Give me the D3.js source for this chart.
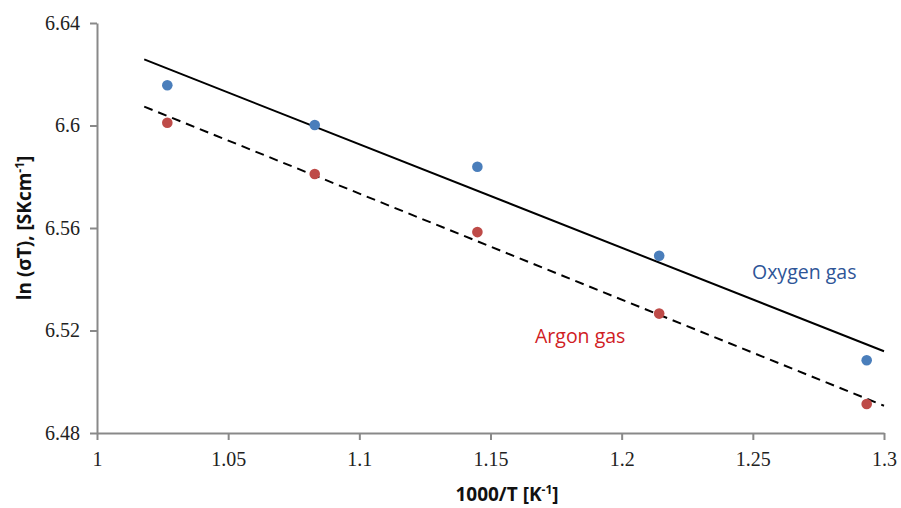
<!DOCTYPE html>
<html>
<head>
<meta charset="utf-8">
<script src="https://cdn.jsdelivr.net/npm/d3@7"></script>
<style>
  body { margin: 0; background: #fff; }
  svg { display: block; }
</style>
</head>
<body>
<svg id="chart" width="901" height="508"></svg>
<script>
// data
const invT = [1.0268, 1.083, 1.145, 1.2143, 1.2934];   // 1000/T [K^-1]
const oxygen = [6.6157, 6.6002, 6.5839, 6.5492, 6.5084];
const argon = [6.6011, 6.5811, 6.5584, 6.5266, 6.4913];
const xTicks = [1, 1.05, 1.1, 1.15, 1.2, 1.25, 1.3];
const yTicks = [6.48, 6.52, 6.56, 6.6, 6.64];
const trendRange = [1.018, 1.3];

const svg = d3.select("#chart");

// plot box
const margin = {top: 23, right: 17, bottom: 75, left: 97};
const width = +svg.attr("width") - margin.right;
const height = +svg.attr("height") - margin.bottom;

const x = d3.scaleLinear().domain([1, 1.3]).range([margin.left, width]);
const y = d3.scaleLinear().domain([6.48, 6.64]).range([height, margin.top]);

const fmt = d => String(+d.toFixed(2));
const axisGrey = "#898989";

const gx = svg.append("g")
  .attr("transform", `translate(0,${height})`)
  .call(d3.axisBottom(x).tickValues(xTicks).tickFormat(fmt).tickSize(7).tickSizeOuter(0).tickPadding(12));

const gy = svg.append("g")
  .attr("transform", `translate(${margin.left},0)`)
  .call(d3.axisLeft(y).tickValues(yTicks).tickFormat(fmt).tickSize(7).tickSizeOuter(0).tickPadding(10));

[gx, gy].forEach(g => {
  g.select(".domain").attr("stroke", axisGrey).attr("stroke-width", 2);
  g.selectAll(".tick line").attr("stroke", axisGrey).attr("stroke-width", 2);
  g.selectAll(".tick text")
    .attr("fill", "#222")
    .attr("font-family", "'Liberation Serif', serif")
    .attr("font-size", 20);
});

// least squares fit, like the spreadsheet trendline
function fit(xs, ys) {
  const mx = d3.mean(xs), my = d3.mean(ys);
  const sxy = d3.sum(xs, (v, i) => (v - mx) * (ys[i] - my));
  const sxx = d3.sum(xs, v => (v - mx) * (v - mx));
  const b = sxy / sxx;
  return t => my + b * (t - mx);
}

const series = [
  {name: "Oxygen gas", vals: oxygen, dot: "#4a7ebb", dash: null},
  {name: "Argon gas", vals: argon, dot: "#be4b48", dash: "9,6"}
];

series.forEach(s => {
  const f = fit(invT, s.vals);
  svg.append("line")
    .attr("x1", x(trendRange[0])).attr("y1", y(f(trendRange[0])))
    .attr("x2", x(trendRange[1])).attr("y2", y(f(trendRange[1])))
    .attr("stroke", "#000")
    .attr("stroke-width", 2)
    .attr("stroke-dasharray", s.dash);
});

series.forEach(s => {
  svg.append("g")
    .selectAll("circle")
    .data(s.vals)
    .join("circle")
    .attr("cx", (d, i) => x(invT[i]))
    .attr("cy", d => y(d))
    .attr("r", 5.3)
    .attr("fill", s.dot);
});

// series labels
svg.append("text")
  .attr("x", 752).attr("y", 279)
  .attr("font-family", "'Open Sans', sans-serif")
  .attr("font-size", 19.5)
  .attr("fill", "#2e5597")
  .text("Oxygen gas");

svg.append("text")
  .attr("x", 535).attr("y", 343)
  .attr("font-family", "'Open Sans', sans-serif")
  .attr("font-size", 19.5)
  .attr("fill", "#d0201f")
  .text("Argon gas");

// axis titles
const xt = svg.append("text")
  .attr("x", 507).attr("y", 501)
  .attr("text-anchor", "middle")
  .attr("font-family", "'Open Sans', sans-serif")
  .attr("font-weight", "bold")
  .attr("font-size", 19)
  .attr("fill", "#111");
xt.append("tspan").text("1000/T [K");
xt.append("tspan").attr("font-size", 12).attr("dy", -7).text("-1");
xt.append("tspan").attr("dy", 7).text("]");

const yt = svg.append("text")
  .attr("transform", `translate(31,228) rotate(-90)`)
  .attr("text-anchor", "middle")
  .attr("font-family", "'Open Sans', sans-serif")
  .attr("font-weight", "bold")
  .attr("font-size", 19)
  .attr("fill", "#111");
yt.append("tspan").text("ln (σT), [SKcm");
yt.append("tspan").attr("font-size", 12).attr("dy", -7).text("-1");
yt.append("tspan").attr("dy", 7).text("]");
</script>
</body>
</html>
